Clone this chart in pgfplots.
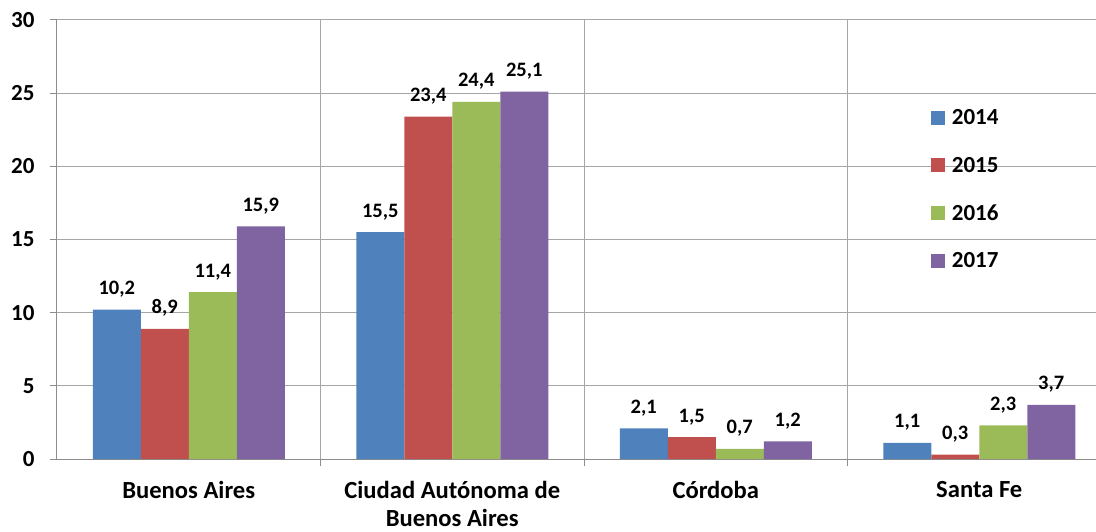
\documentclass[border=0pt]{standalone}
\usepackage{fontspec}
\setmainfont{Carlito}
\usepackage{pgfplots}
\pgfplotsset{compat=1.18}
\definecolor{c14}{HTML}{4F81BD}
\definecolor{c15}{HTML}{C0504D}
\definecolor{c16}{HTML}{9BBB59}
\definecolor{c17}{HTML}{8064A2}
\definecolor{gridc}{HTML}{A6A6A6}
\definecolor{axc}{HTML}{8C8C8C}
\begin{document}
\begin{tikzpicture}
\begin{axis}[
  scale only axis,
  width=1039pt, height=439pt,
  xmin=-0.5, xmax=3.443,
  ymin=0, ymax=30,
  ytick={0,5,...,30},
  axis lines=left,
  axis line style={-, draw=axc, line width=1pt},
  tick align=outside,
  major tick length=7pt,
  tick style={draw=axc, line width=1pt},
  ymajorgrids, xmajorgrids,
  grid style={draw=gridc, line width=1pt},
  xtick={0.5,1.5,2.5},
  xticklabels={},
  extra x ticks={0,1,2,3},
  extra x tick labels={Buenos Aires,{Ciudad Autónoma de\\Buenos Aires},Córdoba,Santa Fe},
  extra x tick style={grid=none, major tick length=0pt,
     xticklabel style={align=center, font=\fontsize{24.6}{28}\selectfont\bfseries, yshift=-19pt}},
  /pgf/number format/assume math mode=true,
  yticklabel style={font=\fontsize{23}{27}\selectfont\bfseries, xshift=-12pt},
  ybar=0pt, bar width=48pt,
  nodes near coords,
  nodes near coords style={font=\fontsize{20.5}{24}\selectfont\bfseries, anchor=base, inner sep=0pt, yshift=15pt,
    /pgf/number format/.cd, fixed, fixed zerofill, precision=1, use comma, assume math mode=true},
  legend style={draw=none, at={(0.838,0.806)}, anchor=north west,
     font=\fontsize{23}{27}\selectfont\bfseries, row sep=27pt, fill=none},
  legend cell align=left,
  legend image code/.code={\fill[#1] (0pt,-7pt) rectangle (14pt,7pt); \path (19pt,0pt);},
]
\addplot[fill=c14, draw=none] coordinates {(0,10.2) (1,15.5) (2,2.1) (3,1.1)};
\addplot[fill=c15, draw=none] coordinates {(0,8.9) (1,23.4) (2,1.5) (3,0.3)};
\addplot[fill=c16, draw=none] coordinates {(0,11.4) (1,24.4) (2,0.7) (3,2.3)};
\addplot[fill=c17, draw=none] coordinates {(0,15.9) (1,25.1) (2,1.2) (3,3.7)};
\legend{2014,2015,2016,2017}
\end{axis}
\pgfresetboundingbox
\path (current axis.south west) ++(-57pt,-72pt) rectangle ++(1096pt,531pt);
\end{tikzpicture}
\end{document}
